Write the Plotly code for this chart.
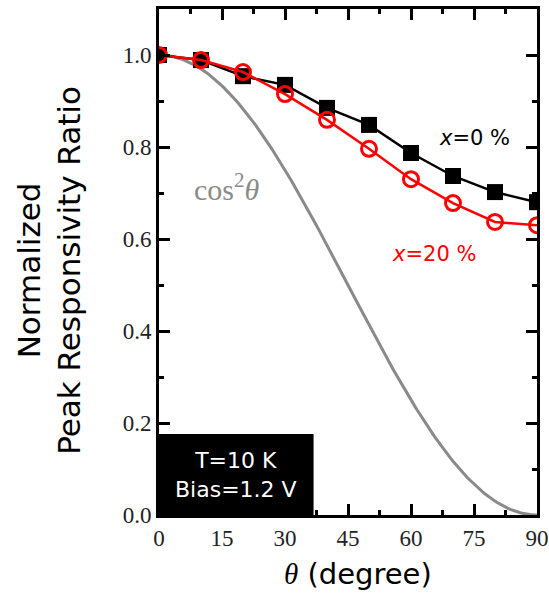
import numpy as np
import plotly.graph_objects as go

# Angle of incidence (degrees)
theta = [0, 10, 20, 30, 40, 50, 60, 70, 80, 90]
# Normalized peak responsivity ratio, x = 0 %
ratio_x0 = [1.0, 0.989, 0.954, 0.935, 0.885, 0.848, 0.787, 0.737, 0.702, 0.680]
# Normalized peak responsivity ratio, x = 20 %
ratio_x20 = [1.0, 0.989, 0.963, 0.915, 0.859, 0.796, 0.730, 0.678, 0.637, 0.630]

x_ticks = [0, 15, 30, 45, 60, 75, 90]
y_ticks = [0.0, 0.2, 0.4, 0.6, 0.8, 1.0]

# Reference cos^2(theta) curve
theta_fine = np.linspace(0, 90, 181)
cos2 = np.cos(np.radians(theta_fine)) ** 2

X_RANGE = [0, 90]
Y_RANGE = [0, 1.1]
SANS = "DejaVu Sans"
SERIF = "Liberation Serif"

fig = go.Figure()
fig.add_trace(go.Scatter(x=theta_fine, y=cos2, mode="lines",
                         line=dict(color="#8a8a8a", width=3), showlegend=False))
fig.add_trace(go.Scatter(x=theta, y=ratio_x0, mode="lines+markers",
                         line=dict(color="black", width=2.5),
                         marker=dict(symbol="square", size=16, color="black"),
                         showlegend=False))
fig.add_trace(go.Scatter(x=theta, y=ratio_x20, mode="lines+markers",
                         line=dict(color="#ff0000", width=2.5),
                         marker=dict(symbol="circle-open", size=15, color="#ff0000",
                                     line=dict(width=3, color="#ff0000")),
                         showlegend=False))

tick_style = dict(ticks="inside", ticklen=11, tickwidth=2.5, tickcolor="black",
                  showgrid=False, zeroline=False, automargin=False,
                  showline=True, linecolor="black", linewidth=3)
label_font = dict(family=SERIF, size=23, color="#222")

x_minor = dict(dtick=7.5, tick0=0, ticks="inside", ticklen=5, tickwidth=2.5,
               tickcolor="black")
y_minor = dict(dtick=0.1, tick0=0, ticks="inside", ticklen=5, tickwidth=2.5,
               tickcolor="black")

fig.update_layout(
    xaxis=dict(range=X_RANGE, domain=[0, 1], tickvals=x_ticks,
               ticktext=[str(v) for v in x_ticks],
               minor=x_minor, tickfont=label_font, **tick_style),
    yaxis=dict(range=Y_RANGE, domain=[0, 1], tickvals=y_ticks,
               ticktext=[f"{v:.1f}" for v in y_ticks],
               minor=y_minor, tickfont=label_font, **tick_style),
    # Top / right axes carry the mirrored ticks only
    xaxis2=dict(range=X_RANGE, overlaying="x", side="top", anchor="y",
                tickvals=x_ticks, showticklabels=False, minor=x_minor, **tick_style),
    yaxis2=dict(range=Y_RANGE, overlaying="y", side="right", anchor="x",
                tickvals=y_ticks, showticklabels=False, minor=y_minor, **tick_style),
)
# Invisible trace to activate the top/right axes
fig.add_trace(go.Scatter(x=[0], y=[0], xaxis="x2", yaxis="y2", mode="markers",
                         marker=dict(opacity=0), showlegend=False, hoverinfo="skip"))

# Axis titles
fig.add_annotation(xref="paper", yref="paper", x=-0.293, y=0.483,
                   xanchor="center", yanchor="middle",
                   textangle=-90, showarrow=False, align="center",
                   text="Normalized<br>Peak Responsivity Ratio",
                   font=dict(family=SANS, size=31, color="black"))
fig.add_annotation(xref="paper", yref="paper", x=0.526, y=-0.117,
                   xanchor="center", yanchor="middle", showarrow=False,
                   text=f"<span style='font-family:{SERIF}'><i>θ</i></span> (degree)",
                   font=dict(family=SANS, size=29, color="black"))

# Measurement conditions box
fig.add_shape(type="rect", xref="x", yref="y", x0=0, x1=36.8, y0=0, y1=0.176,
              fillcolor="black", line=dict(width=0), layer="above")
fig.add_annotation(x=18.4, y=0.088, xref="x", yref="y", showarrow=False,
                   text="T=10 K<br>Bias=1.2 V", align="center",
                   font=dict(family=SANS, size=22, color="white"))

# Series labels
fig.add_annotation(x=75.0, y=0.82, xref="x", yref="y", showarrow=False,
                   text="<i>x</i>=0 %",
                   font=dict(family=SANS, size=21, color="black"))
fig.add_annotation(x=65.4, y=0.567, xref="x", yref="y", showarrow=False,
                   text="<i>x</i>=20 %",
                   font=dict(family=SANS, size=21, color="#ff0000"))
fig.add_annotation(x=16.2, y=0.713, xref="x", yref="y", showarrow=False,
                   text="cos<sup>2</sup><i>θ</i>",
                   font=dict(family=SERIF, size=30, color="#8a8a8a"))

fig.update_layout(width=549, height=593, margin=dict(l=159, r=12, t=9, b=78),
                  plot_bgcolor="white", paper_bgcolor="white")

fig.write_html("out.html")
